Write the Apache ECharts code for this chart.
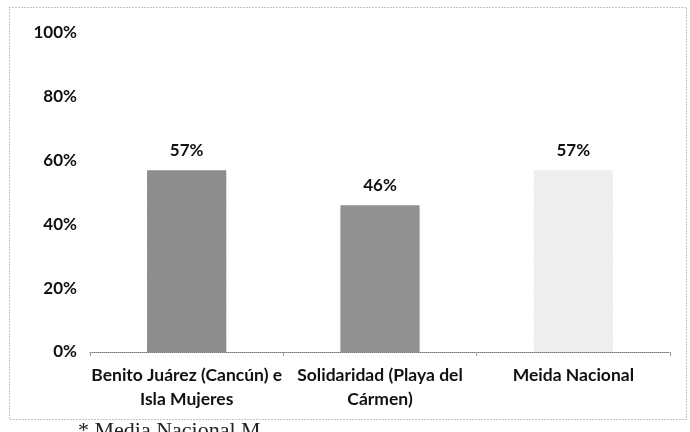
<!DOCTYPE html>
<html>
<head>
<meta charset="utf-8">
<script src="https://cdn.jsdelivr.net/npm/echarts@6/dist/echarts.min.js"></script>
<style>
  html, body { margin: 0; padding: 0; background: #fff; }
  #main { width: 690px; height: 432px; }
</style>
</head>
<body>
<div id="main"></div>
<script>
// categorias y valores (%)
const categories = ['Benito Juárez (Cancún) e\nIsla Mujeres', 'Solidaridad (Playa del\nCármen)', 'Meida Nacional'];
const values = [57, 46, 57];
const barColors = ['#8e8e8e', '#929292', '#efefef'];
const yTicks = [0, 20, 40, 60, 80, 100];

const chart = echarts.init(document.getElementById('main'));
const font = 'Lato, "Open Sans", sans-serif';

chart.setOption({
  animation: false,
  backgroundColor: '#fff',
  grid: { left: 90, right: 20, top: 33, bottom: 80 },
  xAxis: {
    type: 'category',
    data: categories,
    axisLine: { lineStyle: { color: '#777', type: 'dotted', width: 1 } },
    axisTick: { show: true, length: 4, lineStyle: { color: '#999' } },
    axisLabel: {
      color: '#111', fontFamily: font, fontWeight: 'bold', fontSize: 17.5,
      lineHeight: 24, margin: 11, interval: 0
    }
  },
  yAxis: {
    type: 'value',
    min: yTicks[0], max: yTicks[yTicks.length - 1], interval: 20,
    splitLine: { show: false },
    axisLine: { show: false },
    axisTick: { show: false },
    axisLabel: {
      color: '#111', fontFamily: font, fontWeight: 'bold', fontSize: 17,
      margin: 13, formatter: '{value}%'
    }
  },
  series: [{
    type: 'bar',
    barWidth: '41%',
    data: values.map((v, i) => ({
      value: v,
      itemStyle: {
        color: barColors[i],
        decal: {
          symbol: 'rect', symbolSize: 0.6,
          color: i < 2 ? 'rgba(60,60,60,0.35)' : 'rgba(120,120,120,0.35)',
          dashArrayX: [1, 3], dashArrayY: [1, 4], rotation: 0.4
        }
      }
    })),
    label: {
      show: true, position: 'top', distance: 11,
      color: '#111', fontFamily: font, fontWeight: 'bold', fontSize: 17,
      formatter: '{c}%'
    }
  }],
  aria: { enabled: true, decal: { show: true } },
  graphic: [
    {
      type: 'rect', shape: { x: 9.5, y: 7.5, width: 677, height: 412 },
      style: { fill: 'none', stroke: '#888', lineWidth: 1, lineDash: [1, 2] }
    },
    {
      type: 'text', left: 78, top: 420,
      style: { text: '* Media Nacional M', font: '22px "Liberation Serif", serif', fill: '#222' }
    }
  ]
});
</script>
</body>
</html>
